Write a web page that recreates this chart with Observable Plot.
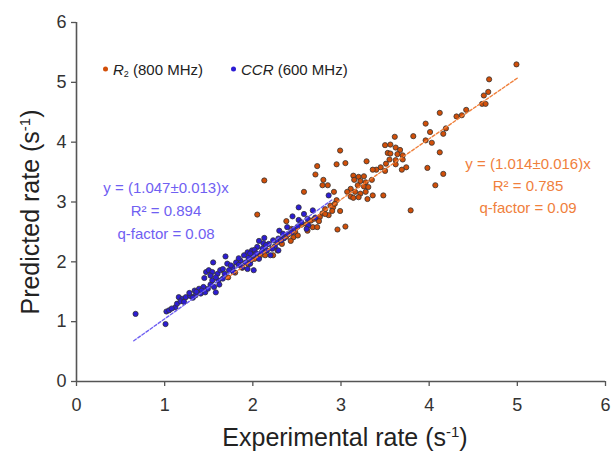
<!DOCTYPE html>
<html>
<head>
<meta charset="utf-8">
<script src="https://cdn.jsdelivr.net/npm/d3@7"></script>
<script src="https://cdn.jsdelivr.net/npm/@observablehq/plot@0.6"></script>
<style>
  body { margin: 0; background: #fff; }
  #wrap { position: relative; width: 612px; height: 465px; font-family: "Liberation Sans", Arial, sans-serif; }
  .ov { position: absolute; white-space: nowrap; line-height: 1; }
  .ov sup { font-size: 0.6em; vertical-align: 0.6em; line-height: 0; }
  .ov sub { font-size: 0.6em; vertical-align: -0.25em; line-height: 0; }
</style>
</head>
<body>
<div id="wrap"></div>
<script>
// ---- data ----
const xTicks = [0, 1, 2, 3, 4, 5, 6];
const yTicks = [0, 1, 2, 3, 4, 5, 6];

// R2 (800 MHz): [experimental, predicted]
const r2Points = [
  [4.99,5.30],[4.68,5.05],[4.67,4.84],[4.62,4.78],[4.60,4.64],[4.64,4.64],[4.12,4.49],[4.37,4.45],
  [4.31,4.43],[4.42,4.54],[3.96,4.31],[4.01,4.17],[4.19,4.23],[4.16,4.14],[3.82,4.10],[3.96,4.03],
  [4.03,3.99],[3.61,4.09],[3.50,3.95],[3.56,3.96],[3.62,3.91],[3.67,3.87],[3.53,3.82],[3.56,3.81],
  [3.64,3.80],[3.70,3.78],[4.12,3.83],[3.55,3.71],[3.62,3.70],[3.70,3.71],[3.51,3.64],[3.62,3.63],
  [3.74,3.58],[3.69,3.54],[3.45,3.58],[3.40,3.54],[3.36,3.54],[3.50,3.52],[3.98,3.57],[4.16,3.47],
  [4.07,3.28],[3.29,3.68],[2.99,3.86],[2.95,3.63],[3.05,3.65],[2.73,3.60],[2.71,3.46],[2.80,3.37],
  [2.85,3.28],[2.79,3.28],[2.58,3.17],[2.13,3.36],[3.14,3.44],[3.20,3.42],[3.26,3.43],[3.15,3.37],
  [3.22,3.35],[3.28,3.33],[3.35,3.37],[3.19,3.28],[3.26,3.26],[3.31,3.25],[3.11,3.22],[3.16,3.17],
  [3.22,3.14],[3.28,3.17],[3.36,3.11],[3.48,3.11],[3.11,3.09],[3.14,3.07],[3.20,3.08],[3.30,3.05],
  [3.07,3.17],[2.92,3.17],[2.95,3.03],[2.99,2.85],[2.88,2.94],[2.91,2.91],[2.86,2.78],[2.79,2.81],
  [2.76,2.75],[3.79,2.86],[2.05,2.79],
  [2.66,2.69],[2.75,2.68],[2.82,2.80],[2.93,2.97],[2.68,2.58],[2.73,2.58],[2.96,2.54],[3.05,2.59],
  [2.61,2.63],[2.38,2.68],[2.44,2.55],[2.48,2.50],[2.46,2.41],[2.51,2.44],[2.43,2.35],[2.62,2.52],
  [2.14,2.11],[2.23,2.11],[2.28,2.19],
  [1.72,1.74],[1.80,1.82],[1.88,1.90],[1.95,1.96],[2.02,2.05],[2.08,2.10],[2.33,2.30],[2.38,2.42],
  [2.55,2.62],[2.70,2.72],[2.82,2.88],[2.90,2.85]
];

// CCR (600 MHz): [experimental, predicted]
const ccrPoints = [
  [0.67,1.13],[1.02,1.17],[1.05,1.19],[1.01,0.96],[1.12,1.24],[1.14,1.30],[1.16,1.41],[1.20,1.38],
  [1.24,1.41],[1.18,1.34],[1.29,1.43],[1.35,1.44],[1.34,1.52],[1.39,1.55],[1.44,1.58],[1.41,1.47],
  [1.46,1.49],[1.49,1.55],[1.52,1.62],[1.56,1.58],[1.58,1.49],[1.54,1.69],[1.45,1.73],[1.47,1.83],
  [1.50,1.86],[1.55,1.99],[1.60,1.80],[1.61,1.69],
  [2.52,2.91],[2.45,2.76],[2.52,2.70],[2.62,2.72],[2.63,2.61],[2.39,2.58],[2.34,2.47],[2.40,2.46],
  [2.29,2.39],[2.35,2.39],[2.23,2.36],[2.28,2.33],[2.18,2.30],[2.12,2.31],[2.07,2.35],[2.05,2.25],
  [2.11,2.22],[2.16,2.19],[2.29,2.19],[2.20,2.11],[1.99,2.19],[1.94,2.16],[2.01,2.11],[1.90,2.11],
  [1.95,2.07],[2.07,2.05],[1.86,2.02],[1.81,1.99],[1.92,1.99],[1.97,1.97],[1.69,2.09],[1.71,1.97],
  [1.77,1.91],[1.88,1.91],[1.94,1.88],[2.01,1.86],[1.63,1.86],[1.78,1.83],[1.54,1.83],[1.97,2.14],
  [2.86,3.11],[2.71,2.74],[2.51,2.59],[2.61,2.55],[2.46,2.54],
  [1.52,1.77],[1.58,1.74],[1.75,1.94],[1.66,1.88],[1.68,1.80],[1.73,1.86],[1.84,1.95],[1.62,1.62],
  [1.66,1.72],[1.28,1.48],[1.32,1.40],[1.42,1.52],[1.08,1.22],[1.22,1.33],[1.36,1.50],[2.02,2.20],
  [2.10,2.16],[2.15,2.28],[2.25,2.26],[2.32,2.36],[2.22,2.22],[2.44,2.49],[2.55,2.66],[2.58,2.80],
  [2.68,2.86],[2.30,2.52],[1.98,2.03],[1.84,2.06],[2.04,2.14],[2.13,2.40]
];

// fits: slope through origin and x range of the drawn fit line
const r2Slope = 1.014, r2Range = [1.7, 5.0];
const ccrSlope = 1.047, ccrRange = [0.65, 2.9];

// ---- styles ----
const orangeFill = "#d24f08", blueFill = "#2c1cd4";
const orangeLine = "#f0803c", blueLine = "#6f60f2";
const axisColor = "#555";
const font = "'Liberation Sans', Arial, sans-serif";

const r2Fit = r2Range.map(x => ({x, y: r2Slope * x}));
const ccrFit = ccrRange.map(x => ({x, y: ccrSlope * x}));

const chart = Plot.plot({
  width: 612,
  height: 465,
  marginLeft: 76,
  marginRight: 7,
  marginTop: 22,
  marginBottom: 84,
  style: {fontFamily: font, background: "white", overflow: "visible"},
  x: {domain: [0, 6], label: null},
  y: {domain: [0, 6], label: null},
  marks: [
    Plot.axisX({ticks: xTicks, tickSize: 5, tickPadding: 12, fontSize: 18, stroke: axisColor, strokeWidth: 1.3, fill: "#333", tickFormat: d => d}),
    Plot.axisY({ticks: yTicks, tickSize: 5, tickPadding: 5, fontSize: 18, stroke: axisColor, strokeWidth: 1.3, fill: "#333", tickFormat: d => d}),
    Plot.ruleY([0], {stroke: axisColor, strokeWidth: 1.6}),
    Plot.ruleX([0], {stroke: axisColor, strokeWidth: 1.6}),
    Plot.dot(r2Points, {x: d => d[0], y: d => d[1], r: 2.6, fill: orangeFill, stroke: "#333", strokeWidth: 0.8}),
    Plot.dot(ccrPoints, {x: d => d[0], y: d => d[1], r: 2.6, fill: blueFill, stroke: "#333", strokeWidth: 0.8}),
    Plot.line(r2Fit, {x: "x", y: "y", stroke: orangeLine, strokeWidth: 1.4, strokeDasharray: "3,2"}),
    Plot.line(ccrFit, {x: "x", y: "y", stroke: blueLine, strokeWidth: 1.4, strokeDasharray: "3,2"})
  ]
});

const wrap = document.getElementById("wrap");
wrap.appendChild(chart);

function overlay(html, css) {
  const d = document.createElement("div");
  d.className = "ov";
  d.innerHTML = html;
  Object.assign(d.style, css);
  wrap.appendChild(d);
  return d;
}

// axis titles
overlay("Experimental rate (s<sup>-1</sup>)", {left: "345px", top: "437px", transform: "translate(-50%,-50%)", fontSize: "25px", color: "#222"});
overlay("Predicted rate (s<sup>-1</sup>)", {left: "30px", top: "212px", transform: "translate(-50%,-50%) rotate(-90deg)", fontSize: "25px", color: "#222"});

// legend
const legendItems = [
  {html: "<i>R</i><sub>2</sub> (800 MHz)", color: orangeFill, left: 106},
  {html: "<i>CCR</i> (600 MHz)", color: blueFill, left: 234}
];
legendItems.forEach(it => {
  overlay(`<span style="display:inline-block;width:5px;height:5px;border-radius:50%;background:${it.color};margin-right:5px;vertical-align:3px"></span>${it.html}`,
    {left: (it.left - 3) + "px", top: "69px", transform: "translateY(-50%)", fontSize: "15px", color: "#222"});
});

// fit annotations
const blueNotes = ["y = (1.047±0.013)x", "R² = 0.894", "q-factor = 0.08"];
const orangeNotes = ["y = (1.014±0.016)x", "R² = 0.785", "q-factor = 0.09"];
blueNotes.forEach((t, i) => overlay(t, {left: "166px", top: (187 + i * 23) + "px", transform: "translate(-50%,-50%)", fontSize: "15px", color: blueLine}));
orangeNotes.forEach((t, i) => overlay(t, {left: "528px", top: (163 + i * 22) + "px", transform: "translate(-50%,-50%)", fontSize: "15px", color: orangeLine}));
</script>
</body>
</html>
